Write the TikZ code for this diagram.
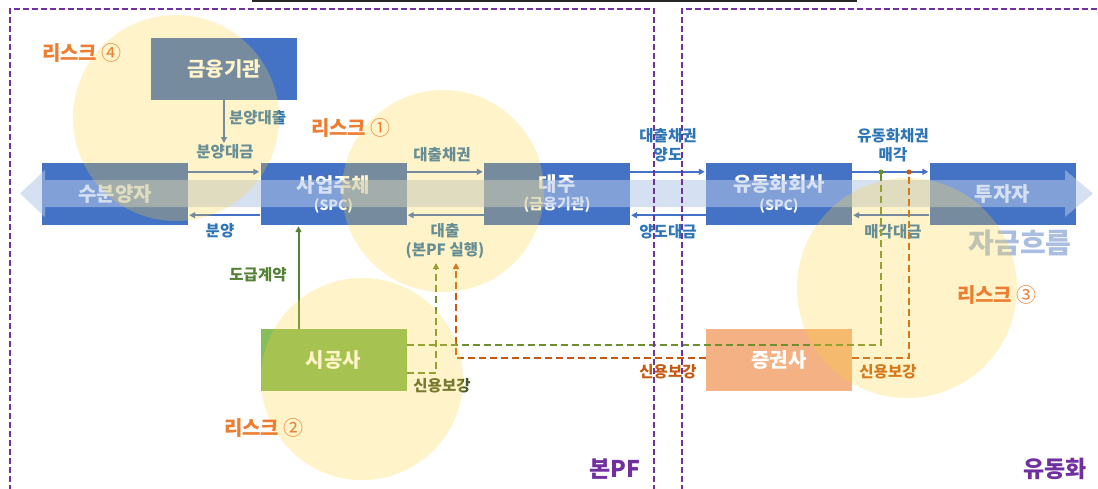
\documentclass[tikz,border=0pt]{standalone}
\usepackage{fontspec}
\setmainfont{Noto Sans CJK KR}
\usetikzlibrary{arrows.meta,calc}
\definecolor{boxblue}{HTML}{4472C4}
\definecolor{lblblue}{HTML}{2E75B6}
\definecolor{bandblue}{HTML}{B4C7E7}
\definecolor{riskorange}{HTML}{ED7D31}
\definecolor{circyellow}{HTML}{FFD43A}
\definecolor{pfpurple}{HTML}{7030A0}
\definecolor{cgreen}{HTML}{86BE5A}
\definecolor{corange}{HTML}{F4B183}
\definecolor{dgreen}{HTML}{6E8F2E}
\definecolor{dorange}{HTML}{C65911}
\definecolor{contractgreen}{HTML}{548235}
\definecolor{creditgreen}{HTML}{44582A}
\definecolor{flowtext}{HTML}{A9BEE0}
\tikzset{
  box/.style={fill=boxblue, minimum width=146pt, minimum height=62pt, inner sep=0pt,
    text=white, align=center, font=\bfseries\fontsize{20}{22}\selectfont},
  lbl/.style={inner sep=0pt, align=center, text=lblblue, font=\bfseries\fontsize{15.5}{19}\selectfont},
  flow/.style={draw=boxblue, line width=2pt, shorten >=1pt, -{Triangle[length=6pt,width=6pt]}},
  gdash/.style={draw=dgreen, line width=2pt, dash pattern=on 7pt off 4pt},
  odash/.style={draw=dorange, line width=2pt, dash pattern=on 7pt off 4pt},
  risk/.style={inner sep=0pt, text=riskorange, font=\bfseries\fontsize{20}{22}\selectfont},
  bigtag/.style={inner sep=0pt, text=pfpurple, font=\bfseries\fontsize{23}{25}\selectfont},
  riskcircle/.style={fill=circyellow, opacity=0.27},
  frame/.style={draw=pfpurple, line width=2pt, dash pattern=on 6pt off 3pt}
}
\begin{document}
\begin{tikzpicture}[x=1pt,y=-1pt]
\useasboundingbox (0,0) rectangle (1098,488);
\fill[white] (0,0) rectangle (1098,488);

% boxes
\node[box] (fi) at (224,69) {금융기관};
\node[box] (sy) at (115,194) {수분양자};
\node[box] (sp) at (333.5,194) {사업주체\\[-4pt]{\fontsize{14}{15}\selectfont (SPC)}};
\node[box] (dj) at (557,194) {대주\\[-4pt]{\fontsize{15}{15}\selectfont (금융기관)}};
\node[box] (yd) at (779,194) {유동화회사\\[-4pt]{\fontsize{14}{15}\selectfont (SPC)}};
\node[box] (tz) at (1002.5,194) {투자자};
\node[box, fill=cgreen] (sg) at (333.5,360) {시공사};
\node[box, fill=corange] (sk) at (779,360) {증권사};

% big money-flow band
\fill[bandblue, opacity=0.55] (20,193.5) -- (45,170) -- (45,180) -- (1065,180) -- (1065,170)
  -- (1093,193.5) -- (1065,217) -- (1065,207) -- (45,207) -- (45,217) -- cycle;
\node[inner sep=0pt, text=flowtext, font=\bfseries\fontsize{28}{30}\selectfont] (flowlbl) at (1020,243) {자금흐름};

% flow arrows
\coordinate (fiend) at (224,144);
\draw[flow] (fi.south) -- (fiend);
\node[lbl, anchor=west] (l1) at (229,118) {분양대출};
\draw[flow] ($(sy.north east)+(0,9)$) -- ($(sp.north west)+(0,9)$);
\node[lbl] (l2) at (225,152) {분양대금};
\draw[flow] ($(sp.south west)+(0,-10)$) -- ($(sy.south east)+(0,-10)$);
\node[lbl] (l3) at (220,231) {분양};
\draw[flow] ($(sp.north east)+(0,9)$) -- ($(dj.north west)+(0,9)$);
\node[lbl] (l4) at (442,155) {대출채권};
\draw[flow] ($(dj.south west)+(0,-10)$) -- ($(sp.south east)+(0,-10)$);
\node[lbl] (l5) at (445,241) {대출\\(본PF 실행)};
\draw[flow] ($(dj.north east)+(0,9)$) -- ($(yd.north west)+(0,9)$);
\node[lbl] (l6) at (668,145.5) {대출채권\\양도};
\draw[flow] ($(yd.south west)+(0,-10)$) -- ($(dj.south east)+(0,-10)$);
\node[lbl] (l7) at (668,232) {양도대금};
\draw[flow] ($(yd.north east)+(0,9)$) -- ($(tz.north west)+(0,9)$);
\node[lbl] (l8) at (893,145.5) {유동화채권\\매각};
\draw[flow] ($(tz.south west)+(0,-10)$) -- ($(yd.south east)+(0,-10)$);
\node[lbl] (l9) at (893,232) {매각대금};

% contract arrow
\draw[draw=contractgreen, line width=2pt, shorten >=1pt, -{Triangle[length=6pt,width=6pt]}]
  ($(sg.north)+(-35,0)$) -- ($(sp.south)+(-35,0)$);
\node[lbl, text=contractgreen] (l10) at (258,275) {도급계약};

% credit enhancement dashed lines
\coordinate (gtop) at (881,172);
\coordinate (gtip) at (436,263);
\coordinate (otip) at (456,263);
\coordinate (otop) at (909,172);
\draw[gdash] ($(sg.north east)+(0,16)$) -| (gtop);
\draw[gdash, -{Triangle[length=6pt,width=6pt]}] ($(sg.north east)+(0,44)$) -| (gtip);
\draw[odash, -{Triangle[length=6pt,width=6pt]}] ($(sk.north west)+(0,29)$) -| (otip);
\draw[odash] ($(sk.north east)+(0,29)$) -| (otop);
\fill[dgreen] (gtop) circle (2.5pt);
\fill[dorange] (otop) circle (2.5pt);
\node[lbl, text=creditgreen] (l11) at (442,386) {신용보강};
\node[lbl, text=dorange] (l12) at (668,372) {신용보강};
\node[lbl, text=dorange] (l13) at (888,372) {신용보강};

% risk circles
\fill[riskcircle] (176,118) circle (103pt);
\fill[riskcircle] (443,191) circle (101pt);
\fill[riskcircle] (362,379) circle (101pt);
\fill[riskcircle] (907,288) circle (110pt);

% risk labels
\node[risk] (r4) at (82,53) {리스크 {\mdseries ④}};
\node[risk] (r1) at (351,128) {리스크 {\mdseries ①}};
\node[risk] (r2) at (264,428) {리스크 {\mdseries ②}};
\node[risk] (r3) at (997,295) {리스크 {\mdseries ③}};

% section frames
\draw[frame] (10,500) -- (10,9) -- (654,9) -- (654,500);
\draw[frame] (682,500) -- (682,9) -- (1110,9);
\node[bigtag] (t1) at (615,469) {본PF};
\node[bigtag] (t2) at (1055,469) {유동화};
\draw[line width=2pt, black!85] (252,1) -- (857,1);
\end{tikzpicture}
\end{document}
